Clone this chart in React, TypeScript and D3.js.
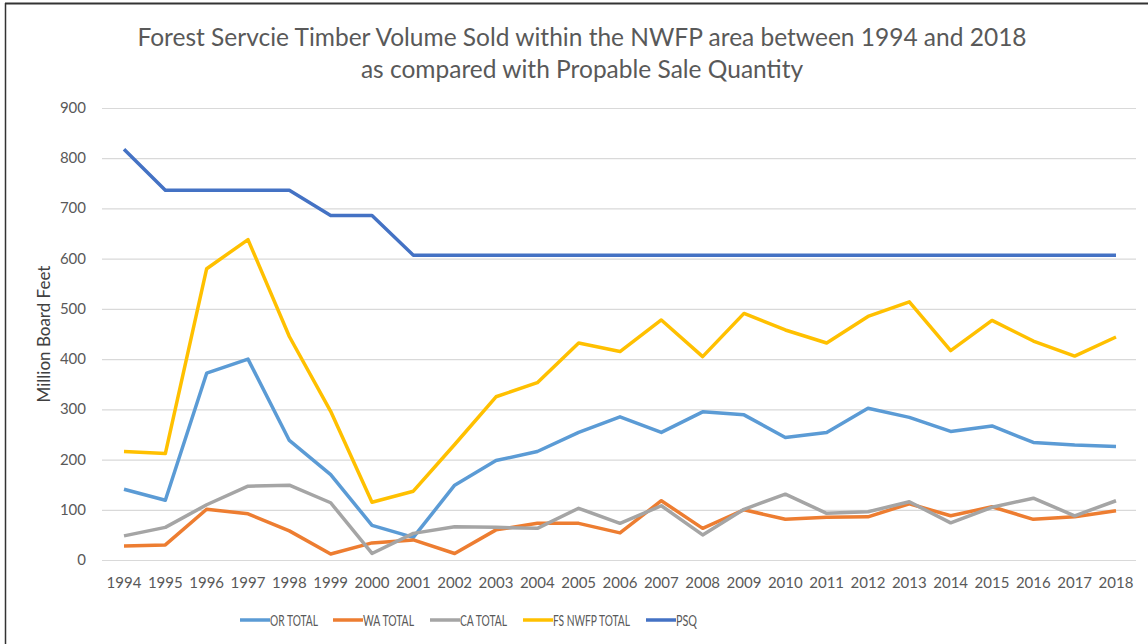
import { useEffect, useRef } from 'react';
import * as d3 from 'd3';

const years = [
  '1994', '1995', '1996', '1997', '1998', '1999', '2000', '2001', '2002', '2003', '2004', '2005', '2006',
  '2007', '2008', '2009', '2010', '2011', '2012', '2013', '2014', '2015', '2016', '2017', '2018',
];

const orTotal = [141, 119, 372, 400, 238, 170, 69, 45, 149, 198, 216, 254, 285, 254, 295, 289, 244, 254, 302, 284, 256, 267, 234, 229, 226];
const waTotal = [28, 30, 101, 92, 58, 12, 34, 40, 13, 60, 73, 73, 54, 118, 63, 100, 81, 85, 86, 112, 88, 106, 81, 86, 98];
const caTotal = [48, 65, 110, 147, 149, 114, 13, 53, 66, 65, 63, 103, 73, 108, 50, 101, 131, 93, 96, 116, 74, 105, 123, 88, 118];
const fsTotal = [216, 212, 580, 638, 445, 296, 115, 137, 230, 325, 353, 432, 415, 478, 405, 491, 458, 432, 485, 514, 417, 477, 436, 406, 444];
const psq = [818, 736, 736, 736, 736, 686, 686, 607, 607, 607, 607, 607, 607, 607, 607, 607, 607, 607, 607, 607, 607, 607, 607, 607, 607];

const yTicks = [0, 100, 200, 300, 400, 500, 600, 700, 800, 900];

const series = [
  { name: 'OR TOTAL', values: orTotal, color: '#5B9BD5' },
  { name: 'WA TOTAL', values: waTotal, color: '#ED7D31' },
  { name: 'CA TOTAL', values: caTotal, color: '#A5A5A5' },
  { name: 'FS NWFP TOTAL', values: fsTotal, color: '#FFC000' },
  { name: 'PSQ', values: psq, color: '#4472C4' },
];

const FONT = 'Lato, "Open Sans", sans-serif';
const TEXT = '#595959';

// legend layout: swatch start and text width (the source legend is squeezed)
const legendX = [240, 333, 430, 523, 646];
const legendTextW = [48, 51, 47, 77, 21];

export default function App() {
  const svgRef = useRef<SVGSVGElement>(null);

  useEffect(() => {
    if (!svgRef.current) return;
    const width = 1148;
    const height = 644;
    const svg = d3.select(svgRef.current);
    svg.selectAll('*').remove();

    // frame (only top and left edges show in the source)
    svg.append('rect').attr('width', width).attr('height', height).attr('fill', '#fff');
    svg.append('line').attr('x1', 5).attr('x2', width).attr('y1', 3.5).attr('y2', 3.5)
      .attr('stroke', '#333').attr('stroke-width', 2);
    svg.append('line').attr('x1', 5.5).attr('x2', 5.5).attr('y1', 3).attr('y2', height)
      .attr('stroke', '#333').attr('stroke-width', 1.5);

    const x = d3.scalePoint<string>().domain(years).range([124, 1116]);
    const y = d3.scaleLinear().domain([0, 900]).range([560, 108]);

    // gridlines
    svg.append('g')
      .selectAll('line')
      .data(yTicks)
      .join('line')
      .attr('x1', 102)
      .attr('x2', 1136)
      .attr('y1', (d) => y(d) + 0.5)
      .attr('y2', (d) => y(d) + 0.5)
      .attr('stroke', '#d9d9d9')
      .attr('stroke-width', 1.2);

    // y tick labels
    svg.append('g')
      .selectAll('text')
      .data(yTicks)
      .join('text')
      .attr('x', 86)
      .attr('y', (d) => y(d) + 5)
      .attr('text-anchor', 'end')
      .attr('fill', TEXT)
      .style('font-size', '15px')
      .style('font-family', FONT)
      .text((d) => String(d));

    // x tick labels
    svg.append('g')
      .selectAll('text')
      .data(years)
      .join('text')
      .attr('x', (d) => x(d)!)
      .attr('y', 588)
      .attr('text-anchor', 'middle')
      .attr('fill', TEXT)
      .style('font-size', '15px')
      .style('font-family', FONT)
      .text((d) => d);

    // y axis title
    svg.append('text')
      .attr('transform', 'translate(50,334) rotate(-90)')
      .attr('text-anchor', 'middle')
      .attr('fill', '#404040')
      .style('font-size', '17px')
      .style('font-family', FONT)
      .text('Million Board Feet');

    // title
    const title = svg.append('text')
      .attr('text-anchor', 'middle')
      .attr('fill', TEXT)
      .style('font-size', '24.5px')
      .style('font-family', FONT);
    title.append('tspan').attr('x', 582).attr('y', 46)
      .text('Forest Servcie Timber Volume Sold within the NWFP area between 1994 and 2018');
    title.append('tspan').attr('x', 582).attr('y', 78)
      .text('as compared with Propable Sale Quantity');

    const line = d3.line<number>()
      .x((_, i) => x(years[i])!)
      .y((d) => y(d));

    series.forEach((s) => {
      svg.append('path')
        .datum(s.values)
        .attr('fill', 'none')
        .attr('stroke', s.color)
        .attr('stroke-width', 3.5)
        .attr('stroke-linejoin', 'round')
        .attr('d', line);
    });

    // legend
    series.forEach((s, i) => {
      const g = svg.append('g').attr('transform', `translate(${legendX[i]},620)`);
      g.append('line').attr('x1', 0).attr('x2', 30).attr('y1', 0).attr('y2', 0)
        .attr('stroke', s.color).attr('stroke-width', 3.5);
      g.append('text').attr('x', 30).attr('y', 5.5)
        .attr('fill', TEXT)
        .attr('textLength', legendTextW[i])
        .attr('lengthAdjust', 'spacingAndGlyphs')
        .style('font-size', '15px')
        .style('font-family', FONT)
        .text(s.name);
    });
  }, []);

  return (
    <svg
      ref={svgRef}
      width={1148}
      height={644}
      style={{ position: 'absolute', left: 0, top: 0, display: 'block' }}
    />
  );
}
